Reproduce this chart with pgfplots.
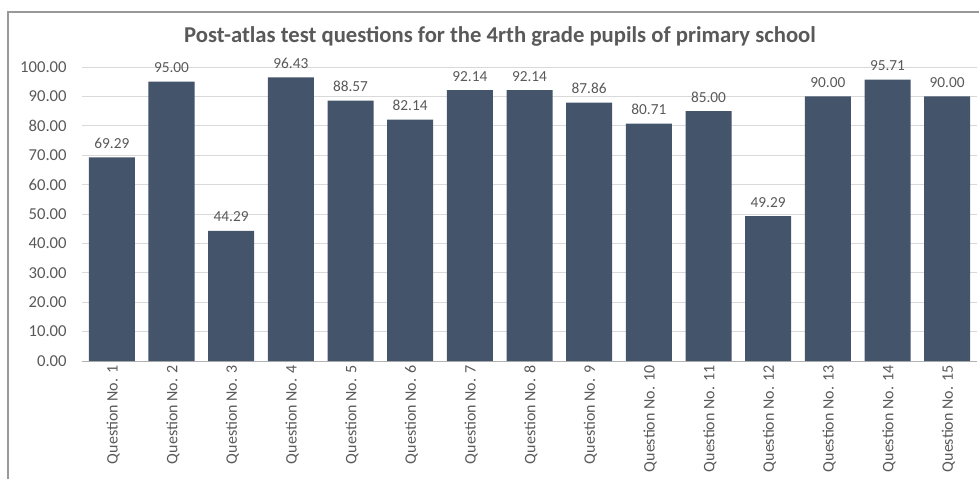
\documentclass[border=0pt]{standalone}
\usepackage{pgfplots}
\pgfplotsset{compat=1.18}
\usepackage{fontspec}
\setmainfont{Carlito}
\definecolor{barc}{HTML}{44546A}
\definecolor{txt}{HTML}{595959}
\definecolor{gridc}{HTML}{D9D9D9}
\begin{document}
\begin{tikzpicture}[x=0.75pt,y=0.75pt]
\useasboundingbox (0,0) rectangle (979,479);
\draw[color=black!40, line width=0.8pt] (8,0) -- (8,467) -- (979,467);
\node[font=\bfseries\fontsize{17}{20}\selectfont, text=txt] at (500,443) {Post-atlas test questions for the 4rth grade pupils of primary school};
\begin{axis}[
  at={(61.5pt,88.5pt)}, anchor=south west,
  scale only axis, width=671.25pt, height=220.5pt,
  xmin=-0.5, xmax=14.5, ymin=0, ymax=100,
  ytick={0,10,...,100},
  xtick={0,...,14},
  xticklabels={Question No. 1,Question No. 2,Question No. 3,Question No. 4,Question No. 5,Question No. 6,Question No. 7,Question No. 8,Question No. 9,Question No. 10,Question No. 11,Question No. 12,Question No. 13,Question No. 14,Question No. 15},
  axis lines*=left,
  x axis line style={-, draw=black!30},
  y axis line style={draw=none},
  major tick length=0pt,
  ymajorgrids, grid style={gridc, line width=0.6pt},
  /pgf/number format/assume math mode=true,
  yticklabel style={/pgf/number format/.cd, fixed, fixed zerofill, precision=2, /tikz/.cd, font=\fontsize{12.5}{14}\selectfont, text=txt, xshift=-8pt},
  xticklabel style={rotate=90, anchor=east, font=\fontsize{12}{14}\selectfont, text=txt, yshift=-1pt},
  clip=false,
]
\addplot[ybar, bar width=34.5pt, fill=barc, draw=none,
  nodes near coords,
  nodes near coords style={/pgf/number format/.cd, fixed, fixed zerofill, precision=2, assume math mode=true, /tikz/.cd, font=\fontsize{11.5}{13}\selectfont, text=txt, anchor=south, yshift=3pt},
] coordinates {
(0,69.29) (1,95.00) (2,44.29) (3,96.43) (4,88.57) (5,82.14) (6,92.14) (7,92.14) (8,87.86) (9,80.71) (10,85.00) (11,49.29) (12,90.00) (13,95.71) (14,90.00)
};
\end{axis}
\end{tikzpicture}
\end{document}
